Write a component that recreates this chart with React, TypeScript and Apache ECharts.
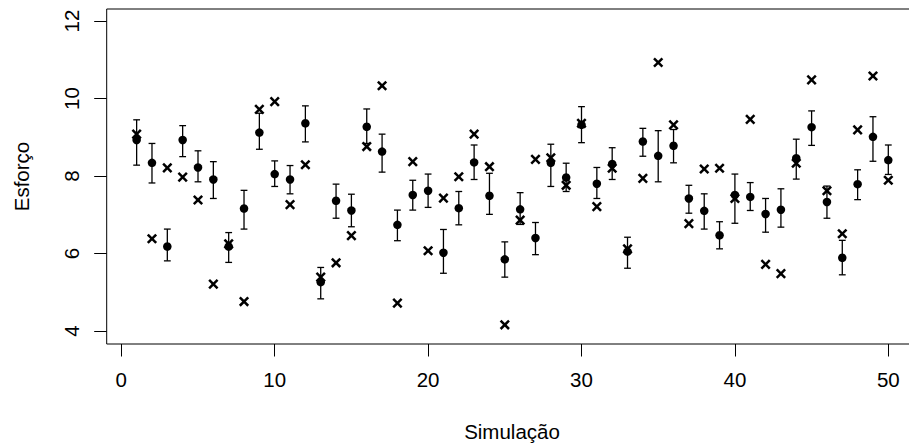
import React, { useEffect, useRef } from "react";
import * as echarts from "echarts";

const simulations = Array.from({ length: 50 }, (_, i) => i + 1);
const means = [
  8.93, 8.34, 6.18, 8.93, 8.22, 7.91, 6.18, 7.16, 9.12, 8.05,
  7.91, 9.36, 5.26, 7.36, 7.11, 9.27, 8.63, 6.74, 7.51, 7.62,
  6.02, 7.17, 8.35, 7.49, 5.85, 7.14, 6.40, 8.34, 7.96, 9.32,
  7.80, 8.31, 6.05, 8.89, 8.52, 8.78, 7.42, 7.10, 6.47, 7.51,
  7.46, 7.02, 7.13, 8.46, 9.26, 7.33, 5.89, 7.79, 9.01, 8.41,
];
const upper = [
  9.45, 8.84, 6.63, 9.30, 8.65, 8.37, 6.54, 7.63, 9.62, 8.39,
  8.27, 9.81, 5.64, 7.79, 7.53, 9.73, 9.08, 7.12, 7.89, 8.05,
  6.62, 7.60, 8.80, 8.07, 6.30, 7.57, 6.80, 8.82, 8.33, 9.79,
  8.22, 8.73, 6.42, 9.23, 9.17, 9.20, 7.76, 7.54, 6.82, 8.05,
  7.83, 7.42, 7.67, 8.95, 9.68, 7.74, 6.34, 8.16, 9.53, 8.80,
];
const lower = [
  8.28, 7.82, 5.81, 8.50, 7.85, 7.42, 5.77, 6.63, 8.69, 7.73,
  7.54, 8.88, 4.83, 6.91, 6.69, 8.84, 8.10, 6.33, 7.12, 7.19,
  5.49, 6.74, 7.91, 7.01, 5.39, 6.75, 5.97, 7.73, 7.60, 8.86,
  7.42, 7.91, 5.62, 8.51, 7.85, 8.34, 7.04, 6.63, 6.12, 6.78,
  7.11, 6.55, 6.68, 7.92, 8.79, 6.91, 5.45, 7.39, 8.38, 8.04,
];
const observed = [
  9.08, 6.38, 8.21, 7.97, 7.38, 5.21, 6.25, 4.76, 9.72, 9.92,
  7.26, 8.29, 5.39, 5.76, 6.46, 8.76, 10.33, 4.72, 8.37, 6.07,
  7.43, 7.98, 9.08, 8.24, 4.16, 6.86, 8.43, 8.47, 7.76, 9.36,
  7.21, 8.20, 6.12, 7.94, 10.93, 9.32, 6.77, 8.18, 8.20, 7.42,
  9.46, 5.72, 5.48, 8.33, 10.48, 7.62, 6.51, 9.19, 10.58, 7.89,
];
const xTicks = [0, 10, 20, 30, 40, 50];
const yTicks = [4, 6, 8, 10, 12];

const FONT = "'Liberation Sans', Arial, Helvetica, sans-serif";
const FS = 20.5;

const X_MIN = xTicks[0];
const X_MAX = xTicks[xTicks.length - 1];
const Y_MIN = yTicks[0];
const Y_MAX = yTicks[yTicks.length - 1];

export default function App() {
  const ref = useRef<HTMLDivElement>(null);
  useEffect(() => {
    if (!ref.current) return;
    const chart = echarts.init(ref.current, undefined, { renderer: "svg" });
    const barData = simulations.map((s, i) => [s, lower[i], upper[i]]);
    const meanData = simulations.map((s, i) => [s, means[i]]);
    const obsData = simulations.map((s, i) => [s, observed[i]]);
    const hiddenAxis = {
      show: false,
    };
    const tickStyle = { show: true, length: 12.5, lineStyle: { color: "#000", width: 1 } };
    const labelStyle = { color: "#000", fontSize: FS, fontFamily: FONT };
    chart.setOption({
      animation: false,
      backgroundColor: "#ffffff",
      grid: [
        // data grid
        { left: 121.3, right: 20.7, top: 21, bottom: 114 },
        // y-axis display grid (axis at box left edge)
        { left: 106.7, right: 20.7, top: 21, bottom: 114 },
        // x-axis display grid (axis at box bottom edge)
        { left: 121.3, right: 20.7, top: 21, bottom: 101 },
      ],
      xAxis: [
        { gridIndex: 0, type: "value", min: X_MIN, max: X_MAX, interval: 10, ...hiddenAxis },
        { gridIndex: 1, type: "value", min: X_MIN, max: X_MAX, interval: 10, ...hiddenAxis },
        {
          gridIndex: 2,
          type: "value",
          min: X_MIN,
          max: X_MAX,
          interval: 10,
          axisLine: { show: false },
          axisTick: tickStyle,
          axisLabel: { ...labelStyle, margin: 25 },
          splitLine: { show: false },
        },
      ],
      yAxis: [
        { gridIndex: 0, type: "value", min: Y_MIN, max: Y_MAX, interval: 2, ...hiddenAxis },
        {
          gridIndex: 1,
          type: "value",
          min: Y_MIN,
          max: Y_MAX,
          interval: 2,
          axisLine: { show: false },
          axisTick: tickStyle,
          axisLabel: { ...labelStyle, margin: 25, rotate: 90 },
          splitLine: { show: false },
        },
        { gridIndex: 2, type: "value", min: Y_MIN, max: Y_MAX, interval: 2, ...hiddenAxis },
      ],
      graphic: [
        {
          type: "rect",
          shape: { x: 106.7, y: 9, width: 810.8, height: 335 },
          style: { fill: "none", stroke: "#000", lineWidth: 1 },
          silent: true,
        },
        {
          type: "text",
          x: 512,
          y: 431.7,
          style: {
            text: "Simulação",
            font: `${FS}px ${FONT}`,
            fill: "#000",
            textAlign: "center",
            textVerticalAlign: "middle",
          },
        },
        {
          type: "text",
          x: 21.7,
          y: 176.5,
          rotation: Math.PI / 2,
          style: {
            text: "Esforço",
            font: `${FS}px ${FONT}`,
            fill: "#000",
            textAlign: "center",
            textVerticalAlign: "middle",
          },
        },
      ],
      series: [
        {
          type: "custom",
          name: "IC",
          xAxisIndex: 0,
          yAxisIndex: 0,
          data: barData,
          renderItem: (params: any, api: any) => {
            const x = api.value(0);
            const lo = api.coord([x, api.value(1)]);
            const hi = api.coord([x, api.value(2)]);
            const w = 3.4;
            const st = { stroke: "#000", lineWidth: 1.3 };
            return {
              type: "group",
              children: [
                { type: "line", shape: { x1: lo[0], y1: lo[1], x2: hi[0], y2: hi[1] }, style: st },
                { type: "line", shape: { x1: lo[0] - w, y1: lo[1], x2: lo[0] + w, y2: lo[1] }, style: st },
                { type: "line", shape: { x1: hi[0] - w, y1: hi[1], x2: hi[0] + w, y2: hi[1] }, style: st },
              ],
            };
          },
          z: 1,
        },
        {
          type: "scatter",
          name: "Média",
          xAxisIndex: 0,
          yAxisIndex: 0,
          data: meanData,
          symbol: "circle",
          symbolSize: 8.5,
          itemStyle: { color: "#000", opacity: 1 },
          z: 2,
        },
        {
          type: "custom",
          name: "Observado",
          xAxisIndex: 0,
          yAxisIndex: 0,
          data: obsData,
          renderItem: (params: any, api: any) => {
            const p = api.coord([api.value(0), api.value(1)]);
            const h = 4.2;
            const st = { stroke: "#000", lineWidth: 2.5 };
            return {
              type: "group",
              children: [
                { type: "line", shape: { x1: p[0] - h, y1: p[1] - h, x2: p[0] + h, y2: p[1] + h }, style: st },
                { type: "line", shape: { x1: p[0] - h, y1: p[1] + h, x2: p[0] + h, y2: p[1] - h }, style: st },
              ],
            };
          },
          z: 3,
        },
      ],
    });
    return () => chart.dispose();
  }, []);
  return (
    <div
      ref={ref}
      style={{ position: "fixed", left: 0, top: 0, width: 909, height: 445, background: "#fff" }}
    />
  );
}
